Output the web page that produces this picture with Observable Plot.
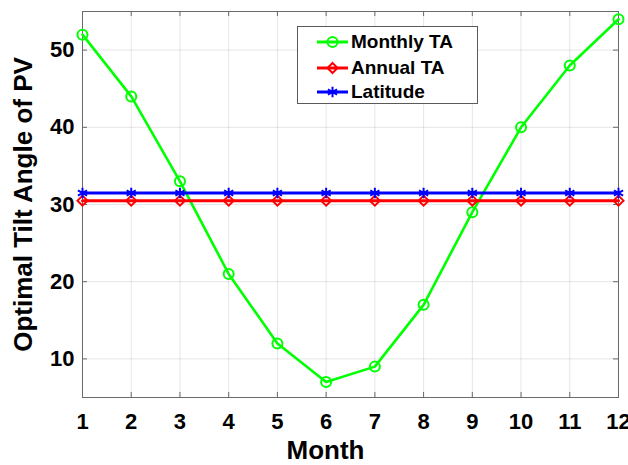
<!DOCTYPE html>
<html>
<head>
<meta charset="utf-8">
<script src="https://cdn.jsdelivr.net/npm/d3@7"></script>
<script src="https://cdn.jsdelivr.net/npm/@observablehq/plot@0.6"></script>
<style>
  html, body { margin: 0; padding: 0; background: #fff; }
  #wrap { position: relative; width: 628px; height: 465px; font-family: "Liberation Sans", Arial, Helvetica, sans-serif; }
  #legend { position: absolute; left: 297px; top: 26px; width: 181px; height: 78px; box-sizing: border-box;
            border: 1px solid #5a5a5a; background: #fff; }
  .row { position: absolute; left: 0; height: 24px; display: flex; align-items: center; }
  .row svg { display: block; margin-left: 17px; }
  .row span { font-weight: bold; font-size: 19px; color: #000; margin-left: 2px; white-space: nowrap; }
</style>
</head>
<body>
<div id="wrap"></div>
<script>
// Month numbers and the optimal tilt angle (degrees) found for each month
const months = [1, 2, 3, 4, 5, 6, 7, 8, 9, 10, 11, 12];
const monthlyTA = [52, 44, 33, 21, 12, 7, 9, 17, 29, 40, 48, 54];
// Single annual optimum and the site latitude, drawn as flat reference series
const annualTA = 30.5;
const latitude = 31.5;
const yTicks = [10, 20, 30, 40, 50];

const seriesNames = ["Monthly TA", "Annual TA", "Latitude"];
const seriesColors = ["#00ff00", "#ff0000", "#0000ff"];
const seriesSymbols = ["circle", "diamond2", "asterisk"];

const rows = months.map((m, i) => ({month: m, monthly: monthlyTA[i], annual: annualTA, latitude}));

const W = 628, H = 465;
const mL = 82, mR = 10, mT = 11, mB = 68;
const innerW = W - mL - mR, innerH = H - mT - mB;
const font = '"Liberation Sans", Arial, Helvetica, sans-serif';
const axisColor = "#6a6a6a";

const chart = Plot.plot({
  width: W,
  height: H,
  marginLeft: mL,
  marginRight: mR,
  marginTop: mT,
  marginBottom: mB,
  style: {fontFamily: font, background: "#fff", color: "#000"},
  x: {domain: [1, 12]},
  y: {domain: [5, 55]},
  marks: [
    Plot.gridX(months, {stroke: "#000", strokeOpacity: 0.1}),
    Plot.gridY(yTicks, {stroke: "#000", strokeOpacity: 0.1}),
    // inward tick marks on all four sides of the box
    Plot.tickX(months, {x: d => d, insetTop: innerH - 5, stroke: axisColor}),
    Plot.tickX(months, {x: d => d, insetBottom: innerH - 5, stroke: axisColor}),
    Plot.tickY(yTicks, {y: d => d, insetRight: innerW - 5, stroke: axisColor}),
    Plot.tickY(yTicks, {y: d => d, insetLeft: innerW - 5, stroke: axisColor}),
    Plot.frame({stroke: axisColor}),
    Plot.axisX(months, {tickSize: 0, tickPadding: 16, fontSize: 22, fontWeight: "bold", label: null}),
    Plot.axisY(yTicks, {tickSize: 0, tickPadding: 8, fontSize: 22, fontWeight: "bold", label: null}),
    Plot.text(["Month"], {frameAnchor: "bottom", dx: -25, dy: 53, lineAnchor: "middle", textAnchor: "middle",
                          fontSize: 26, fontWeight: "bold", fill: "#000"}),
    Plot.text(["Optimal Tilt Angle of PV"], {frameAnchor: "left", dx: -59, rotate: -90, lineAnchor: "middle",
                          textAnchor: "middle", fontSize: 26, fontWeight: "bold", fill: "#000"}),
    // monthly optimum
    Plot.line(rows, {x: "month", y: "monthly", stroke: seriesColors[0], strokeWidth: 2.6}),
    Plot.dot(rows, {x: "month", y: "monthly", symbol: seriesSymbols[0], r: 5, stroke: seriesColors[0], strokeWidth: 2, fill: "none"}),
    // annual optimum
    Plot.line(rows, {x: "month", y: "annual", stroke: seriesColors[1], strokeWidth: 3}),
    Plot.dot(rows, {x: "month", y: "annual", symbol: seriesSymbols[1], r: 4.5, stroke: seriesColors[1], strokeWidth: 2, fill: "none"}),
    // latitude
    Plot.line(rows, {x: "month", y: "latitude", stroke: seriesColors[2], strokeWidth: 3}),
    Plot.dot(rows, {x: "month", y: "latitude", symbol: seriesSymbols[2], r: 5, stroke: seriesColors[2], strokeWidth: 2})
  ]
});

const wrap = document.getElementById("wrap");
wrap.appendChild(chart);

// legend box inside the axes
const legend = document.createElement("div");
legend.id = "legend";
const rowTops = [3, 29, 53];
const symbolTypes = {circle: d3.symbolCircle, diamond2: d3.symbolDiamond2, asterisk: d3.symbolAsterisk};
const symbolSizes = {circle: Math.PI * 25, diamond2: Math.PI * 20.25, asterisk: Math.PI * 25};
seriesNames.forEach((name, i) => {
  const row = document.createElement("div");
  row.className = "row";
  row.style.top = rowTops[i] + "px";
  const svg = d3.create("svg").attr("width", 34).attr("height", 24);
  svg.append("line").attr("x1", 2).attr("x2", 33).attr("y1", 12).attr("y2", 12)
    .attr("stroke", seriesColors[i]).attr("stroke-width", 3);
  svg.append("path")
    .attr("transform", "translate(17.5,12)")
    .attr("d", d3.symbol(symbolTypes[seriesSymbols[i]], symbolSizes[seriesSymbols[i]])())
    .attr("fill", "none").attr("stroke", seriesColors[i]).attr("stroke-width", 2);
  row.appendChild(svg.node());
  const label = document.createElement("span");
  label.textContent = name;
  row.appendChild(label);
  legend.appendChild(row);
});
wrap.appendChild(legend);
</script>
</body>
</html>
